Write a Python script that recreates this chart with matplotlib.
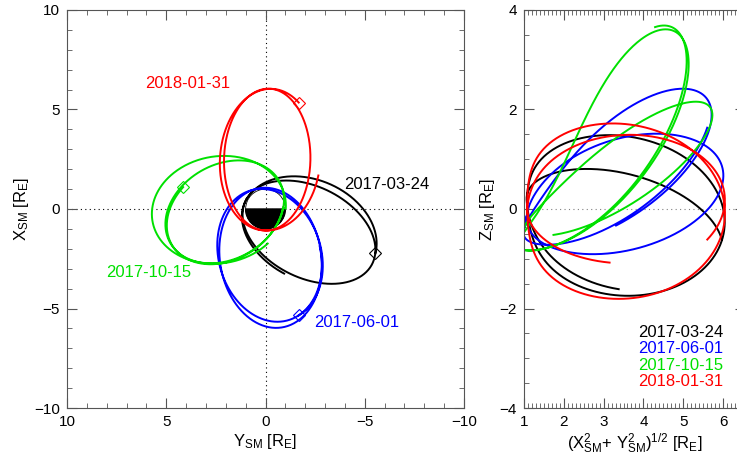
import numpy as np
import matplotlib.pyplot as plt
from matplotlib.patches import Wedge, Circle
from matplotlib.ticker import MultipleLocator

plt.rcParams['font.family'] = ['Liberation Sans', 'DejaVu Sans']
plt.rcParams['mathtext.fontset'] = 'custom'
plt.rcParams['mathtext.rm'] = 'Liberation Sans'
plt.rcParams['mathtext.it'] = 'Liberation Sans:italic'

# Orbit size [RE]: apogee / perigee distance and semi-minor axis
R_APO = 6.05
R_PERI = 1.08
B_ORBIT = 2.8

dates = ['2017-03-24', '2017-06-01', '2017-10-15', '2018-01-31']
colors = ['black', '#0000ff', '#00e000', '#ff0000']

# One entry per orbit pass: SM longitude / latitude of the apogee line,
# tilt of the orbit plane about that line, eccentric anomaly span (deg)
black_lon = [-117, -118, -118]
black_lat = [-8, -3, -5]
black_tilt = [22, 35, 30]
black_e0 = [12, -180, -180]
black_e1 = [180, 180, -90]

blue_lon = [-174, -174, -175]
blue_lat = [21, 7, 20]
blue_tilt = [-22, -24, -22]
blue_e0 = [25, -180, -180]
blue_e1 = [180, 180, 100]

green_lon = [95, 94, 91]
green_lat = [35, 34, 19]
green_tilt = [-25, -25, -15]
green_e0 = [-35, -180, -180]
green_e1 = [180, 180, 140]

red_lon = [-3, -2, -4]
red_lat = [2, -1, 0]
red_tilt = [30, 39, 23]
red_e0 = [-35, -180, -180]
red_e1 = [180, 180, -100]

passes = [
    (black_lon, black_lat, black_tilt, black_e0, black_e1),
    (blue_lon, blue_lat, blue_tilt, blue_e0, blue_e1),
    (green_lon, green_lat, green_tilt, green_e0, green_e1),
    (red_lon, red_lat, red_tilt, red_e0, red_e1),
]


def orbit_pass(lon, lat, tilt, e0, e1):
    a = (R_APO + R_PERI) / 2
    c = (R_APO - R_PERI) / 2
    lon, lat, tilt = np.radians([lon, lat, tilt])
    apex = np.array([np.cos(lat)*np.cos(lon), np.cos(lat)*np.sin(lon), np.sin(lat)])
    side = np.array([-np.sin(lon), np.cos(lon), 0.0])
    up = np.array([-np.sin(lat)*np.cos(lon), -np.sin(lat)*np.sin(lon), np.cos(lat)])
    q = np.cos(tilt)*side + np.sin(tilt)*up
    E = np.radians(np.linspace(e0, e1, 400))
    pos = np.outer(a*np.cos(E) + c, apex) + np.outer(B_ORBIT*np.sin(E), q)
    return pos[:, 0], pos[:, 1], pos[:, 2]


fig = plt.figure(figsize=(7.37, 4.62), dpi=100)
ax1 = fig.add_axes([67/737, 54/462, 397/737, 398/462])
ax2 = fig.add_axes([524/737, 54/462, 221/737, 398/462])

for (lon, lat, tilt, e0, e1), col in zip(passes, colors):
    x, y, z = [], [], []
    for k in range(len(lon)):
        xs, ys, zs = orbit_pass(lon[k], lat[k], tilt[k], e0[k], e1[k])
        x.append(xs); y.append(ys); z.append(zs)
    x = np.concatenate(x); y = np.concatenate(y); z = np.concatenate(z)
    ax1.plot(y, x, color=col, lw=1.4, zorder=3)
    ax1.plot(y[0], x[0], marker='D', ms=6, mfc='none', mec=col, mew=0.8, zorder=4)
    ax2.plot(np.hypot(x, y), z, color=col, lw=1.4)

# Earth: dayside white, nightside black
ax1.add_patch(Wedge((0, 0), 1, 180, 360, color='black', zorder=2))
ax1.add_patch(Circle((0, 0), 1, fc='none', ec='black', lw=0.6, zorder=2))

ax1.axhline(0, color='k', ls=(0, (1, 3)), lw=0.8, zorder=1)
ax1.axvline(0, color='k', ls=(0, (1, 3)), lw=0.8, zorder=1)
ax1.set_xlim(10, -10)
ax1.set_ylim(-10, 10)
ax1.xaxis.set_major_locator(MultipleLocator(5))
ax1.xaxis.set_minor_locator(MultipleLocator(1))
ax1.yaxis.set_major_locator(MultipleLocator(5))
ax1.yaxis.set_minor_locator(MultipleLocator(1))
ax1.set_xlabel(r'Y$_{\rm SM}$ [R$_{\rm E}$]', fontsize=12, labelpad=2)
ax1.set_ylabel(r'X$_{\rm SM}$ [R$_{\rm E}$]', fontsize=12, labelpad=2)

label_pos = [(-6.1, 1.25), (-4.6, -5.7), (5.9, -3.2), (3.9, 6.3)]
for d, col, (ty, tx) in zip(dates, colors, label_pos):
    ax1.text(ty, tx, d, color=col, fontsize=12, ha='center', va='center')

ax2.axhline(0, color='gray', ls=(0, (1, 3)), lw=0.8, zorder=1)
ax2.set_xlim(1, 1 + 221/39.8)
ax2.set_ylim(-4, 4)
ax2.xaxis.set_major_locator(MultipleLocator(1))
ax2.xaxis.set_minor_locator(MultipleLocator(0.1))
ax2.yaxis.set_major_locator(MultipleLocator(2))
ax2.yaxis.set_minor_locator(MultipleLocator(0.5))
ax2.set_xlabel(r'(X$^2_{\rm SM}$+ Y$^2_{\rm SM}$)$^{1/2}$ [R$_{\rm E}$]', fontsize=12, labelpad=2)
ax2.set_ylabel(r'Z$_{\rm SM}$ [R$_{\rm E}$]', fontsize=12, labelpad=2)
for i, (d, col) in enumerate(zip(dates, colors)):
    ax2.text(6.0, -2.48 - 0.33*i, d, color=col, fontsize=12, ha='right', va='center')

for ax in (ax1, ax2):
    for s in ax.spines.values():
        s.set_color('#555555')
        s.set_linewidth(0.8)
    ax.tick_params(which='both', direction='in', top=True, right=True,
                   color='#555555', labelsize=11)
    ax.tick_params(which='major', length=7, pad=5)
    ax.tick_params(which='minor', length=3.5)

fig.savefig('out.png', dpi=100)
